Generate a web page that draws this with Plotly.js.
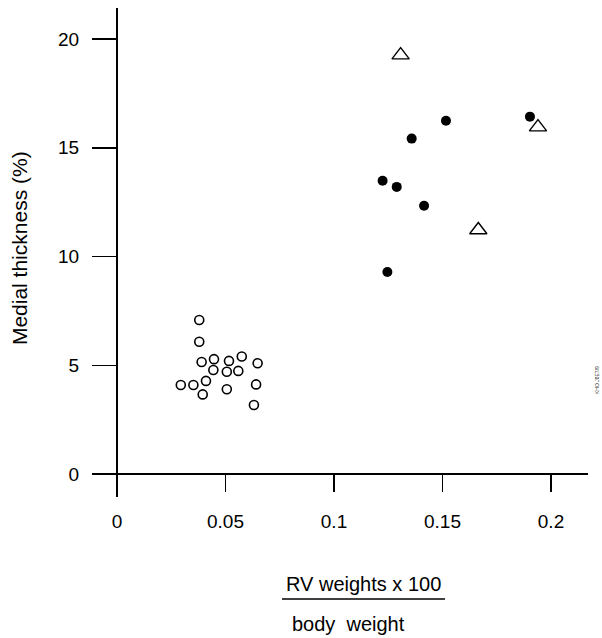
<!DOCTYPE html>
<html>
<head>
<meta charset="utf-8">
<script src="https://cdn.plot.ly/plotly-3.0.1.min.js"></script>
<style>html,body{margin:0;padding:0;background:#fff;}</style>
</head>
<body>
<div id="chart" style="width:602px;height:638px;"></div>
<script>
// Open circles (control group)
const openX = [0.0379, 0.0379, 0.0390, 0.0447, 0.0516, 0.0575, 0.0648, 0.0444, 0.0506, 0.0559, 0.0294, 0.0352, 0.0410, 0.0395, 0.0506, 0.0641, 0.0631];
const openY = [7.08, 6.08, 5.15, 5.28, 5.20, 5.40, 5.09, 4.78, 4.70, 4.74, 4.09, 4.09, 4.28, 3.66, 3.90, 4.12, 3.17];
// Filled circles
const filledX = [0.1516, 0.1358, 0.1903, 0.1224, 0.1289, 0.1415, 0.1246];
const filledY = [16.24, 15.42, 16.43, 13.48, 13.20, 12.33, 9.29];
// Open triangles
const triX = [0.1307, 0.1940, 0.1665];
const triY = [19.26, 15.95, 11.22];

const xTicks = [0, 0.05, 0.1, 0.15, 0.2];
const xTickText = ["0", "0.05", "0.1", "0.15", "0.2"];
const yTicks = [0, 5, 10, 15, 20];
const yTickText = ["0", "5", "10", "15", "20"];

const FONT = "Liberation Sans, Arial, Helvetica, sans-serif";

const traces = [
  {x: openX, y: openY, type: "scatter", mode: "markers", name: "control",
   marker: {symbol: "circle-open", size: 9, color: "#000", line: {width: 1.6, color: "#000"}}},
  {x: filledX, y: filledY, type: "scatter", mode: "markers", name: "filled",
   marker: {symbol: "circle", size: 10, color: "#000"}},
  {x: triX, y: triY, type: "scatter", mode: "markers", name: "triangle",
   marker: {symbol: "triangle-up-open", size: 15, color: "#000", line: {width: 1.4, color: "#000"}}}
];

const layout = {
  width: 602, height: 638,
  margin: {l: 95, r: 14, t: 8, b: 141},
  paper_bgcolor: "#fff", plot_bgcolor: "#fff",
  showlegend: false,
  font: {family: FONT, color: "#000", size: 19},
  xaxis: {
    range: [-0.01014, 0.21705],
    anchor: "free", position: 0.04703,
    tickvals: xTicks, ticktext: xTickText,
    ticks: "outside", ticklen: 17, tickwidth: 1.5, tickcolor: "#000",
    ticklabelstandoff: 13,
    showline: true, linecolor: "#000", linewidth: 2,
    showgrid: false, zeroline: false,
    tickfont: {family: FONT, size: 19, color: "#000"}
  },
  yaxis: {
    range: [-1.057, 21.425],
    anchor: "free", position: 0.04462,
    tickvals: yTicks, ticktext: yTickText,
    ticks: "outside", ticklen: 24, tickwidth: 1.5, tickcolor: "#000",
    ticklabelstandoff: 9,
    showline: true, linecolor: "#000", linewidth: 2.5,
    showgrid: false, zeroline: false,
    tickfont: {family: FONT, size: 19, color: "#000"}
  },
  annotations: [
    {text: "Medial thickness (%)", xref: "paper", yref: "paper", x: 0, y: 0.509,
     xshift: -76, textangle: -90, showarrow: false, xanchor: "center", yanchor: "middle",
     font: {family: FONT, size: 21, color: "#000"}},
    {text: "RV weights x 100", xref: "paper", yref: "paper", x: 0.5456, y: -0.178,
     showarrow: false, xanchor: "center", yanchor: "middle",
     font: {family: FONT, size: 20, color: "#000"}},
    {text: "body  weight", xref: "paper", yref: "paper", x: 0.5152, y: -0.2597,
     showarrow: false, xanchor: "center", yanchor: "middle",
     font: {family: FONT, size: 20, color: "#000"}},
    {text: "KHO J8E7/9", xref: "paper", yref: "paper", x: 1.018, y: 0.239,
     showarrow: false, textangle: -90, xanchor: "center", yanchor: "middle",
     font: {family: FONT, size: 5, color: "#333"}}
  ],
  shapes: [
    {type: "line", xref: "paper", yref: "paper", x0: 0.3793, x1: 0.7099, y0: -0.2086, y1: -0.2086,
     line: {color: "#000", width: 1.5}}
  ]
};

Plotly.newPlot("chart", traces, layout, {displayModeBar: false, staticPlot: true});
</script>
</body>
</html>
